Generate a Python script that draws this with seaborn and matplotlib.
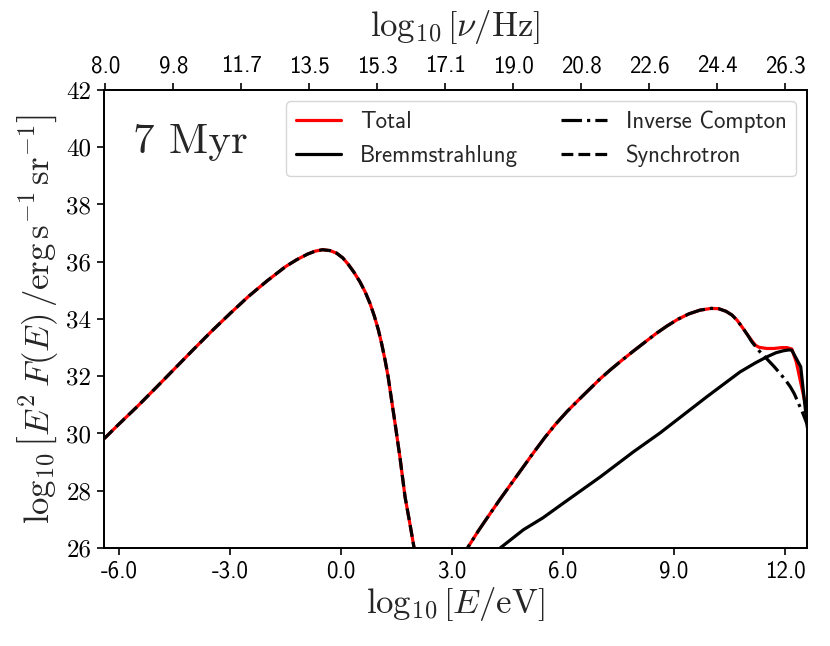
import numpy as np
import pandas as pd
import matplotlib
matplotlib.use("Agg")
import matplotlib.pyplot as plt
import seaborn as sns

# ---------------- data ----------------
sync_x = [-6.40, -6.00, -5.50, -5.00, -4.50, -4.00, -3.50, -3.00, -2.50, -2.00,
          -1.50, -1.20, -0.90, -0.70, -0.50, -0.30, -0.12, 0.05, 0.20, 0.35,
          0.51, 0.65, 0.78, 0.90, 1.01, 1.10, 1.19, 1.27, 1.35, 1.46, 1.59,
          1.73, 1.86, 1.97, 2.10]
sync_y = [29.82, 30.33, 30.95, 31.60, 32.26, 32.92, 33.57, 34.19, 34.79, 35.33,
          35.83, 36.07, 36.27, 36.37, 36.42, 36.39, 36.30, 36.13, 35.90, 35.63,
          35.30, 34.95, 34.55, 34.10, 33.61, 33.12, 32.56, 32.00, 31.30, 30.35, 29.18,
          27.78, 26.85, 26.03, 25.20]

ic_x = [3.20, 3.44, 3.70, 4.00, 4.30, 4.60, 4.90, 5.20, 5.50, 5.80, 6.10, 6.40,
        6.70, 7.00, 7.30, 7.60, 7.90, 8.20, 8.50, 8.80, 9.10, 9.40, 9.70, 10.00,
        10.20, 10.40, 10.56, 10.70, 10.83, 10.97, 11.10, 11.30, 11.51, 11.70,
        11.86, 12.00, 12.14, 12.25, 12.36, 12.48, 12.60]
ic_y = [25.50, 26.05, 26.58, 27.15, 27.71, 28.25, 28.79, 29.33, 29.85, 30.33, 30.76, 31.15,
        31.53, 31.91, 32.25, 32.57, 32.88, 33.18, 33.48, 33.75, 33.99, 34.18, 34.31, 34.37,
        34.36, 34.27, 34.14, 33.96, 33.73, 33.47, 33.20, 32.88, 32.60, 32.34,
        32.10, 31.88, 31.63, 31.38, 31.05, 30.70, 30.30]

brems_x = [4.10, 4.30, 4.93, 5.45, 6.01, 7.00, 7.90, 8.62, 9.88, 10.78, 11.20, 11.51,
           11.75, 11.95, 12.10, 12.18, 12.42, 12.60]
brems_y = [25.80, 26.00, 26.64, 27.05, 27.57, 28.48, 29.36, 30.02, 31.28, 32.15, 32.47, 32.68,
           32.82, 32.89, 32.92, 32.91, 32.33, 30.20]

total_x = sync_x[:-1] + [2.10, 2.70] + ic_x[:30] + [11.10, 11.20, 11.30, 11.50, 11.70, 11.90,
                                                    12.05, 12.18, 12.30, 12.45, 12.60]
total_y = sync_y[:-1] + [25.20, 24.30] + ic_y[:30] + [33.24, 33.08, 33.01, 32.97, 32.97, 33.00,
                                                      33.00, 32.95, 32.50, 31.60, 30.70]

x_ticks = [-6.0, -3.0, 0.0, 3.0, 6.0, 9.0, 12.0]
x_tick_labels = ["-6.0", "-3.0", "0.0", "3.0", "6.0", "9.0", "12.0"]
y_ticks = [26, 28, 30, 32, 34, 36, 38, 40, 42]
top_tick_pos = [-6.37, -4.533, -2.696, -0.859, 0.978, 2.815, 4.652, 6.489, 8.326, 10.163, 12.0]
top_tick_labels = ["8.0", "9.8", "11.7", "13.5", "15.3", "17.1", "19.0", "20.8", "22.6", "24.4", "26.3"]

# ---------------- style ----------------
sns.set_style("ticks")
plt.rcParams["mathtext.fontset"] = "cm"
plt.rcParams["axes.unicode_minus"] = False
plt.rcParams["font.family"] = ["cmss10", "DejaVu Sans"]

fig = plt.figure(figsize=(8.30, 6.46), dpi=100)
ax = fig.add_axes([0.1253, 0.1517, 0.8470, 0.7090])

lw = 2.3
sns.lineplot(x=total_x, y=total_y, ax=ax, color="red", lw=lw, sort=False,
             estimator=None, label="Total")
sns.lineplot(x=brems_x, y=brems_y, ax=ax, color="black", lw=lw, sort=False,
             estimator=None, label="Bremmstrahlung")
sns.lineplot(x=ic_x, y=ic_y, ax=ax, color="black", lw=lw, linestyle="-.", sort=False,
             estimator=None, label="Inverse Compton")
sns.lineplot(x=sync_x, y=sync_y, ax=ax, color="black", lw=lw, linestyle="--", sort=False,
             estimator=None, label="Synchrotron")

ax.set_xlim(-6.405, 12.59)
ax.set_ylim(26, 42)

ax.set_xticks(x_ticks)
ax.set_xticklabels(x_tick_labels, fontfamily=["cmss10", "DejaVu Sans"], fontsize=16.5)
ax.set_yticks(y_ticks)
ax.set_yticklabels([str(v) for v in y_ticks], fontfamily=["cmr10", "DejaVu Serif"], fontsize=18)
ax.tick_params(axis="both", direction="out", length=5, width=1.2, colors="black", pad=4)

for s in ax.spines.values():
    s.set_visible(True)
    s.set_linewidth(1.3)
    s.set_color("black")

ax.set_xlabel(r"$\log_{10}\left[E/\mathrm{eV}\right]$", fontsize=25, labelpad=2)
ax.set_ylabel(r"$\log_{10}\left[E^2\,F(E)\,/\mathrm{erg\,s^{-1}\,sr^{-1}}\right]$",
              fontsize=25, labelpad=5)

ax.text(0.041, 0.885, "7 Myr", transform=ax.transAxes, fontsize=31,
        fontfamily=["cmr10", "DejaVu Serif"], va="center", ha="left")

leg = ax.legend(loc="upper right", ncol=2, frameon=True,
                prop={"family": ["cmss10", "DejaVu Sans"], "size": 16.5},
                columnspacing=1.9, handlelength=2.0, borderaxespad=0.5)
leg.get_frame().set_edgecolor("#cccccc")

# top axis
top = ax.twiny()
top.set_xlim(ax.get_xlim())
top.set_xticks(top_tick_pos)
top.set_xticklabels(top_tick_labels, fontfamily=["cmss10", "DejaVu Sans"], fontsize=16.5)
top.tick_params(axis="x", direction="out", length=5, width=1.2, colors="black", pad=4)
top.set_xlabel(r"$\log_{10}\left[\nu/\mathrm{Hz}\right]$", fontsize=25, labelpad=14)
for s in top.spines.values():
    s.set_linewidth(1.3)
    s.set_color("black")

fig.savefig("out.png", dpi=100)
